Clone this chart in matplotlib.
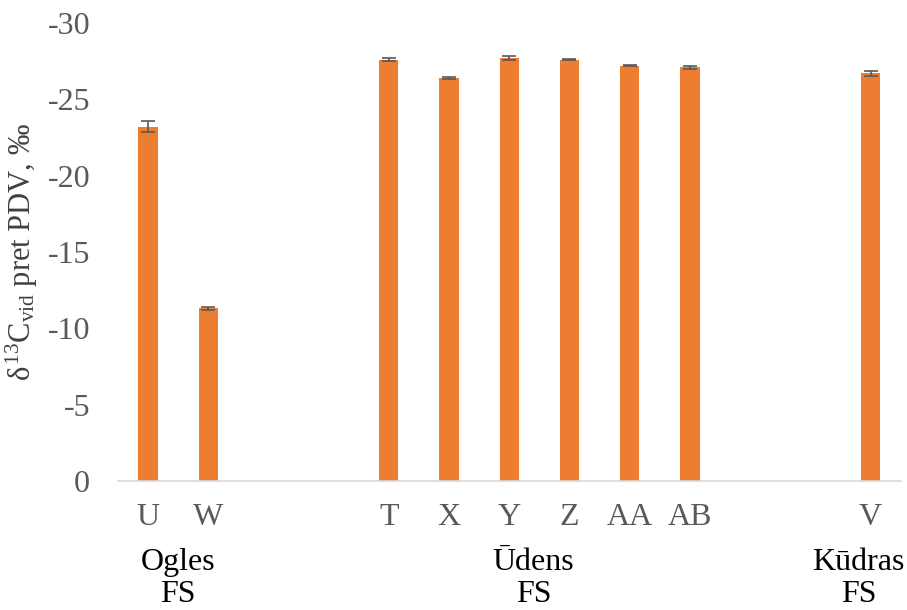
import numpy as np
import matplotlib.pyplot as plt

plt.rcParams['font.family'] = ['Liberation Serif', 'DejaVu Serif']
plt.rcParams['mathtext.fontset'] = 'custom'
plt.rcParams['mathtext.rm'] = 'Liberation Serif'
plt.rcParams['mathtext.it'] = 'Liberation Serif'

# sample labels, positions (slots) and values
labels = ['U', 'W', 'T', 'X', 'Y', 'Z', 'AA', 'AB', 'V']
slots = [0, 1, 4, 5, 6, 7, 8, 9, 12]
values = [-23.2, -11.3, -27.6, -26.4, -27.7, -27.6, -27.2, -27.1, -26.7]
errors = [0.35, 0.08, 0.1, 0.05, 0.1, 0.05, 0.05, 0.1, 0.15]

groups = ['Ogles\nFS', 'Ūdens\nFS', 'Kūdras\nFS']
group_pos = [0.5, 6.4, 11.8]

fig = plt.figure(figsize=(9.07, 6.10), dpi=100)
ax = fig.add_axes([0.130, 0.2115, 0.863, 0.751])

ax.bar(slots, values, width=0.32, color='#ed7d31',
       yerr=errors, error_kw=dict(ecolor='#595959', elinewidth=1.2, capsize=5, capthick=1.2))

ax.set_xlim(-0.5, 12.5)
ax.set_ylim(0, -30)
ax.set_yticks(np.arange(0, -31, -5))
ax.set_yticklabels([str(v) for v in range(0, -31, -5)])
ax.set_xticks(slots)
ax.set_xticklabels(labels)

ax.tick_params(axis='both', length=0, labelsize=23, labelcolor='#595959')
ax.tick_params(axis='x', pad=16)
ax.tick_params(axis='y', pad=20)

for s in ['top', 'right', 'left']:
    ax.spines[s].set_visible(False)
ax.spines['bottom'].set_color('#d9d9d9')
ax.spines['bottom'].set_linewidth(1.2)

ax.set_ylabel(r'$\delta^{13}\mathrm{C}_{vid}$ pret PDV, ‰', fontsize=22, color='#404040')
ax.yaxis.set_label_coords(-0.1, 0.5)

for g, p in zip(groups, group_pos):
    ax.text(p, -0.147, g, transform=ax.get_xaxis_transform(), ha='center', va='top',
            fontsize=23, color='black', linespacing=1.1)

fig.savefig('out.png', dpi=100)
